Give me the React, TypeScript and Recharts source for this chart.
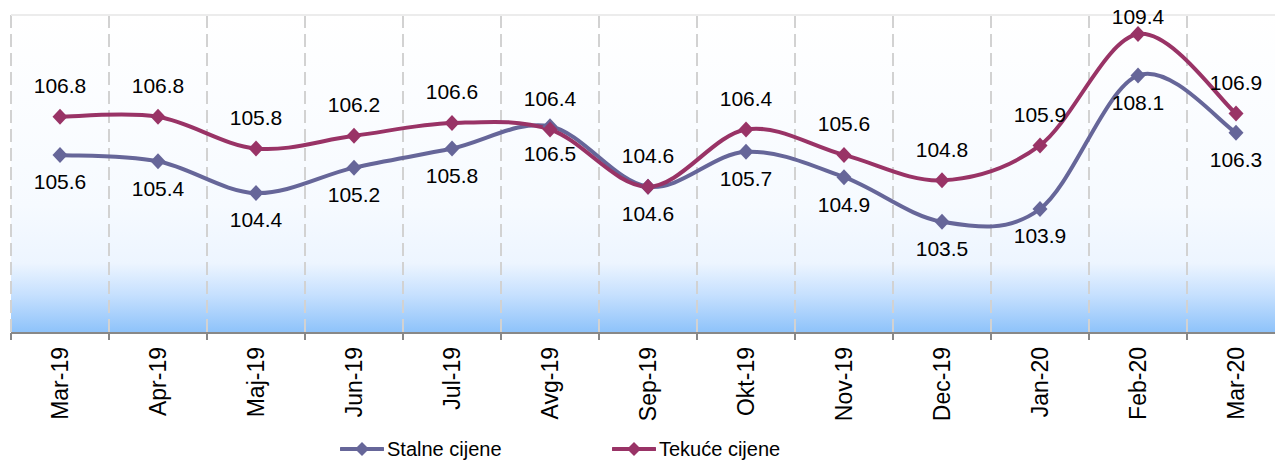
import { LineChart, Line, XAxis, YAxis, CartesianGrid, LabelList, ReferenceLine } from "recharts";

const months = ["Mar-19", "Apr-19", "Maj-19", "Jun-19", "Jul-19", "Avg-19", "Sep-19", "Okt-19", "Nov-19", "Dec-19", "Jan-20", "Feb-20", "Mar-20"];
const stalne = [105.6, 105.4, 104.4, 105.2, 105.8, 106.5, 104.6, 105.7, 104.9, 103.5, 103.9, 108.1, 106.3];
const tekuce = [106.8, 106.8, 105.8, 106.2, 106.6, 106.4, 104.6, 106.4, 105.6, 104.8, 105.9, 109.4, 106.9];
const yTicks = [100, 101, 102, 103, 104, 105, 106, 107, 108, 109, 110];

const data = months.map((m, i) => ({ month: m, stalne: stalne[i], tekuce: tekuce[i] }));

const STALNE = "#666699";
const TEKUCE = "#993366";
const FONT = "'Liberation Sans', Arial, sans-serif";

// smoothed line similar to Excel's (Catmull-Rom style bezier)
const smoothCurve = (context: any) => {
  let pts: number[][] = [];
  return {
    areaStart() {},
    areaEnd() {},
    lineStart() {
      pts = [];
    },
    point(x: number, y: number) {
      pts.push([+x, +y]);
    },
    lineEnd() {
      if (!pts.length) return;
      context.moveTo(pts[0][0], pts[0][1]);
      for (let i = 0; i < pts.length - 1; i++) {
        const p0 = pts[i - 1] || pts[i];
        const p1 = pts[i];
        const p2 = pts[i + 1];
        const p3 = pts[i + 2] || p2;
        const t = 1 / 6;
        context.bezierCurveTo(
          p1[0] + (p2[0] - p0[0]) * t,
          p1[1] + (p2[1] - p0[1]) * t,
          p2[0] - (p3[0] - p1[0]) * t,
          p2[1] - (p3[1] - p1[1]) * t,
          p2[0],
          p2[1]
        );
      }
    },
  };
};

const diamond = (color: string) => (props: any) => {
  const { cx, cy, index } = props;
  if (cx == null || cy == null) return <g key={index} />;
  return (
    <polygon
      key={index}
      points={`${cx},${cy - 8} ${cx + 7.5},${cy} ${cx},${cy + 8} ${cx - 7.5},${cy}`}
      fill={color}
    />
  );
};

const labelAbove = (props: any) => {
  const { x, y, value, index } = props;
  return (
    <text key={index} x={x} y={Math.max(y - 31, 17)} dy="0.35em" textAnchor="middle" fontSize={21} fontFamily={FONT} fill="#000">
      {value.toFixed(1)}
    </text>
  );
};

const labelBelow = (props: any) => {
  const { x, y, value, index } = props;
  return (
    <text key={index} x={x} y={y + 27} dy="0.35em" textAnchor="middle" fontSize={21} fontFamily={FONT} fill="#000">
      {value.toFixed(1)}
    </text>
  );
};

const MonthTick = (props: any) => {
  const { x, y, payload } = props;
  const half = payload && payload.offset ? payload.offset : 49;
  return (
    <g>
      <line x1={x - half} x2={x - half} y1={y} y2={y + 7} stroke="#888" strokeWidth={2} />
      <text
        x={x}
        y={y + 14}
        transform={`rotate(-90, ${x}, ${y + 14})`}
        textAnchor="end"
        dominantBaseline="central"
        fontSize={23}
        fontFamily={FONT}
        fill="#000"
      >
        {payload.value}
      </text>
    </g>
  );
};

const LegendItem = ({ color, label }: { color: string; label: string }) => (
  <div style={{ display: "flex", alignItems: "center", height: 20 }}>
    <svg width={44} height={16}>
      <line x1={1} x2={43} y1={8} y2={8} stroke={color} strokeWidth={4} strokeLinecap="round" />
      <polygon points="22,1 29,8 22,15 15,8" fill={color} />
    </svg>
    <span style={{ marginLeft: 3, fontSize: 20, lineHeight: "20px", fontFamily: FONT, color: "#000" }}>{label}</span>
  </div>
);

export default function App() {
  return (
    <div style={{ position: "absolute", left: 0, top: 0, width: 1275, height: 461, overflow: "hidden", background: "#fff" }}>
      <LineChart width={1285} height={461} data={data} margin={{ top: 15, right: 0, left: 11, bottom: 0 }}>
        <defs>
          <linearGradient id="plotBg" x1="0" y1="0" x2="0" y2="1">
            <stop offset="0" stopColor="#FFFFFF" />
            <stop offset="0.6" stopColor="#F6FAFF" />
            <stop offset="0.78" stopColor="#EDF5FF" />
            <stop offset="0.88" stopColor="#C6E0FE" />
            <stop offset="1" stopColor="#8DC2FA" />
          </linearGradient>
        </defs>
        <CartesianGrid
          vertical={false}
          fill="url(#plotBg)"
          fillOpacity={1}
          stroke="#E6E6E6"
          strokeWidth={2}
          strokeDasharray="15 6"
        />
        <CartesianGrid
          horizontal={false}
          stroke="#D2D2D2"
          strokeWidth={2}
          strokeDasharray="13 6"
          verticalCoordinatesGenerator={({ offset }: any) =>
            Array.from({ length: months.length + 1 }, (_, i) => offset.left + (i * offset.width) / months.length)
          }
        />
        <ReferenceLine y={110} stroke="#ECECEC" strokeWidth={2} />
        <XAxis
          dataKey="month"
          scale="band"
          interval={0}
          height={128}
          tickLine={false}
          tickSize={0}
          tickMargin={0}
          axisLine={{ stroke: "#888", strokeWidth: 2 }}
          tick={<MonthTick />}
        />
        <YAxis domain={[100, 110]} ticks={yTicks} width={0} tick={false} axisLine={false} tickLine={false} />
        <Line
          dataKey="stalne"
          type={smoothCurve as any}
          stroke={STALNE}
          strokeWidth={4}
          dot={diamond(STALNE)}
          activeDot={false}
          isAnimationActive={false}
        >
          <LabelList dataKey="stalne" content={labelBelow} />
        </Line>
        <Line
          dataKey="tekuce"
          type={smoothCurve as any}
          stroke={TEKUCE}
          strokeWidth={4}
          dot={diamond(TEKUCE)}
          activeDot={false}
          isAnimationActive={false}
        >
          <LabelList dataKey="tekuce" content={labelAbove} />
        </Line>
      </LineChart>
      <div style={{ position: "absolute", left: 340, top: 439 }}>
        <LegendItem color={STALNE} label="Stalne cijene" />
      </div>
      <div style={{ position: "absolute", left: 612, top: 439 }}>
        <LegendItem color={TEKUCE} label="Tekuće cijene" />
      </div>
    </div>
  );
}
